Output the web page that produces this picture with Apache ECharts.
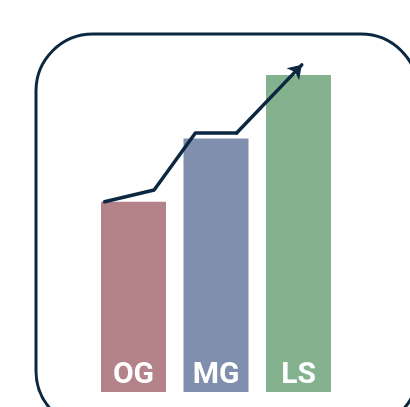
<!DOCTYPE html>
<html>
<head>
<meta charset="utf-8">
<script src="https://cdn.jsdelivr.net/npm/echarts@6/dist/echarts.min.js"></script>
<style>
  html, body { margin: 0; padding: 0; background: #fff; }
  #chart { width: 410px; height: 407px; }
</style>
</head>
<body>
<div id="chart"></div>
<script>
var categories = ['OG', 'MG', 'LS'];
var barValues = [60, 80, 100];
var barColors = ['#b4838a', '#808fad', '#85b28e'];
// trend arrow, x in category units (0..3), y in bar units
var trendX = [0.15, 0.75, 1.25, 1.75, 2.54];
var trendY = [60, 63.7, 81.7, 81.7, 103.2];

var myChart = echarts.init(document.getElementById('chart'));

var trendCoords = [];
for (var i = 0; i < trendX.length; i++) {
    trendCoords.push([trendX[i], trendY[i]]);
}
var n = trendCoords.length;
var lineStyle = { color: '#0c2840', width: 3.5, opacity: 1, cap: 'round', join: 'round' };

myChart.setOption({
    animation: false,
    grid: { left: 92.25, right: 70.25, top: 75, bottom: 15 },
    xAxis: [
        { type: 'category', data: categories, show: false },
        { type: 'value', min: 0, max: 3, show: false }
    ],
    yAxis: { type: 'value', min: 0, max: 100, show: false },
    graphic: [{
        type: 'rect',
        shape: { x: 36, y: 34, width: 382, height: 394, r: 57 },
        style: { fill: 'none', stroke: '#0c2840', lineWidth: 3 },
        z: -1
    }],
    series: [
        {
            type: 'bar',
            barWidth: 65,
            data: barValues.map(function (v, i) {
                return { value: v, itemStyle: { color: barColors[i] } };
            }),
            label: {
                show: true,
                position: 'insideBottom',
                distance: 2,
                formatter: '{b}',
                color: '#fff',
                fontFamily: 'Roboto',
                fontWeight: 'bold',
                fontSize: 30
            }
        },
        {
            type: 'lines',
            coordinateSystem: 'cartesian2d',
            xAxisIndex: 1,
            polyline: true,
            clip: false,
            lineStyle: lineStyle,
            data: [{ coords: trendCoords.slice(0, n - 1) }],
            z: 5
        },
        {
            type: 'lines',
            coordinateSystem: 'cartesian2d',
            xAxisIndex: 1,
            clip: false,
            symbol: ['none', 'arrow'],
            symbolSize: 13,
            lineStyle: lineStyle,
            data: [{ coords: trendCoords.slice(n - 2) }],
            z: 5
        }
    ]
});
</script>
</body>
</html>
